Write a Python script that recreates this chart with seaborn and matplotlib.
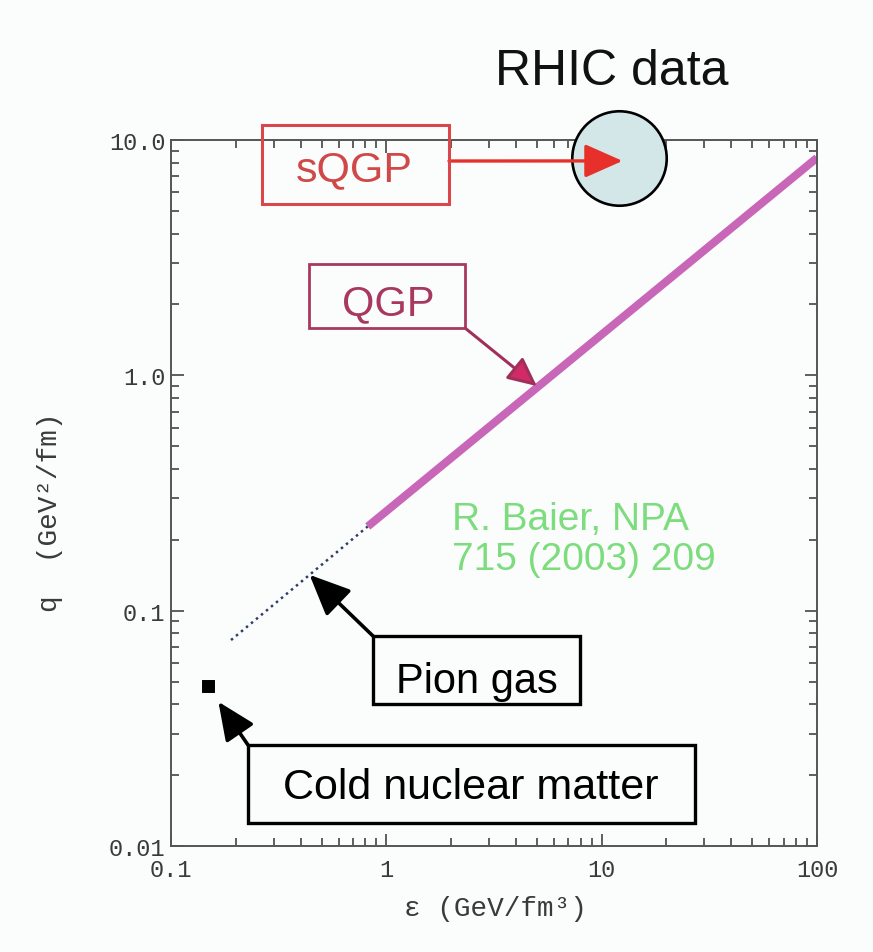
import numpy as np
import seaborn as sns
import matplotlib.pyplot as plt
from matplotlib.patches import Rectangle
from matplotlib.ticker import LogLocator, NullFormatter

# values: epsilon (GeV/fm^3) vs q-hat (GeV^2/fm)
pion_eps = [0.19, 0.82]
pion_qhat = [0.075, 0.228]
qgp_eps = [0.82, 100.0]
qgp_qhat = [0.228, 8.4]
cold_eps = [0.148]
cold_qhat = [0.048]
rhic_eps = [12.1]
rhic_qhat = [8.4]

# where the annotation arrows point (data coords)
sqgp_tip = (12.5, 8.15)
qgp_tip = (5.0, 0.9)
pion_tip = (0.44, 0.142)
cold_tip = (0.166, 0.041)

x_ticks = [0.1, 1, 10, 100]
x_ticklabels = ['0.1', '1', '10', '100']
y_ticks = [0.01, 0.1, 1, 10]
y_ticklabels = ['0.01', '0.1', '1.0', '10.0']

sns.set_style('ticks')
plt.rcParams['font.family'] = ['Liberation Sans', 'DejaVu Sans']
mono = ['Liberation Mono', 'DejaVu Sans Mono']
bg = '#fbfdfd'

W, H = 873, 953
fig = plt.figure(figsize=(W / 100, H / 100), dpi=100, facecolor=bg)
ax = fig.add_axes([171 / W, 1 - 847 / H, (817 - 171) / W, (847 - 141) / H])
ax.set_facecolor(bg)


def fpx(x, y):
    # image pixel (from top-left) -> figure fraction
    return (x / W, 1 - y / H)


# curves
sns.lineplot(x=pion_eps, y=pion_qhat, ax=ax, color='#2c3d66',
             linestyle=(0, (1, 1.6)), linewidth=1.8)
sns.lineplot(x=qgp_eps, y=qgp_qhat, ax=ax, color='#c866b8',
             linewidth=5.8, solid_capstyle='butt')
sns.scatterplot(x=cold_eps, y=cold_qhat, ax=ax, marker='s', s=75,
                color='black', edgecolor='black')
sns.scatterplot(x=rhic_eps, y=rhic_qhat, ax=ax, marker='o', s=68 ** 2,
                color='#d3e6e8', edgecolor='black', linewidth=1.9,
                clip_on=False, zorder=5)

ax.set_xscale('log')
ax.set_yscale('log')
ax.set_xlim(0.1, 100)
ax.set_ylim(0.01, 10)
ax.set_xticks(x_ticks, x_ticklabels)
ax.set_yticks(y_ticks, y_ticklabels)
for axis in (ax.xaxis, ax.yaxis):
    axis.set_minor_locator(LogLocator(base=10, subs=np.arange(2, 10)))
    axis.set_minor_formatter(NullFormatter())

ax.tick_params(which='both', direction='in', top=True, right=True,
               color='#444444', width=1.2, labelsize=17,
               labelcolor='#3a3a3a', labelfontfamily='Liberation Mono')
ax.tick_params(which='major', length=9)
ax.tick_params(which='minor', length=6)
ax.tick_params(axis='x', pad=9)
ax.tick_params(axis='y', pad=4)
for sp in ax.spines.values():
    sp.set_color('#555555')
    sp.set_linewidth(1.4)
ax.set_xlabel('')
ax.set_ylabel('')

fig.text(*fpx(495, 909), 'ε (GeV/fm³)', ha='center', va='center',
         fontsize=20, family=mono, color='#3a3a3a')
fig.text(*fpx(50, 512), 'q  (GeV²/fm)', ha='center', va='center',
         rotation=90, fontsize=20, family=mono, color='#3a3a3a')


# label boxes
def box(x0, y0, x1, y1, ec, lw, fill=True):
    fig.add_artist(Rectangle(fpx(x0, y1), (x1 - x0) / W, (y1 - y0) / H,
                             transform=fig.transFigure, fill=fill, fc=bg,
                             ec=ec, lw=lw, zorder=3))


box(262, 126, 449, 205, '#d9474a', 2.2, fill=False)
box(309, 265, 465, 329, '#a8385f', 2.0, fill=False)
box(373, 637, 580, 705, 'black', 2.4)
box(248, 746, 695, 824, 'black', 2.4)

fig.text(*fpx(354, 181), 'sQGP', ha='center', va='baseline',
         fontsize=31, color='#d04848', zorder=4)
fig.text(*fpx(388, 315), 'QGP', ha='center', va='baseline',
         fontsize=30, color='#a8385f', zorder=4)
fig.text(*fpx(477, 693), 'Pion gas', ha='center', va='baseline',
         fontsize=30, color='black', zorder=4)
fig.text(*fpx(471, 799), 'Cold nuclear matter', ha='center', va='baseline',
         fontsize=31, color='black', zorder=4)
fig.text(*fpx(612, 85), 'RHIC data', ha='center', va='baseline',
         fontsize=36, color='#111111')
fig.text(*fpx(452, 530), 'R. Baier, NPA', ha='left', va='baseline',
         fontsize=28, color='#7ddc7d')
fig.text(*fpx(452, 570), '715 (2003) 209', ha='left', va='baseline',
         fontsize=28, color='#7ddc7d')

# arrows
head = '-|>,head_length=0.9,head_width=0.4'
ax.annotate('', xy=sqgp_tip, xytext=fpx(449, 162),
            textcoords='figure fraction', annotation_clip=False, zorder=6,
            arrowprops=dict(arrowstyle=head, mutation_scale=26, color='#e8302a',
                            lw=2.4, shrinkA=0, shrinkB=0))
ax.annotate('', xy=qgp_tip, xytext=fpx(465, 329),
            textcoords='figure fraction', annotation_clip=False, zorder=6,
            arrowprops=dict(arrowstyle='-|>,head_length=0.8,head_width=0.38',
                            mutation_scale=22, fc='#d22a66', ec='#a0305a',
                            lw=2.2, shrinkA=0, shrinkB=0))
ax.annotate('', xy=pion_tip, xytext=fpx(373, 637),
            textcoords='figure fraction', annotation_clip=False, zorder=6,
            arrowprops=dict(arrowstyle=head, mutation_scale=28, color='black',
                            lw=2.6, shrinkA=0, shrinkB=0))
ax.annotate('', xy=cold_tip, xytext=fpx(248, 746),
            textcoords='figure fraction', annotation_clip=False, zorder=6,
            arrowprops=dict(arrowstyle=head, mutation_scale=26, color='black',
                            lw=2.6, shrinkA=0, shrinkB=0))

fig.savefig('out.png', dpi=100, facecolor=bg)
plt.close(fig)
